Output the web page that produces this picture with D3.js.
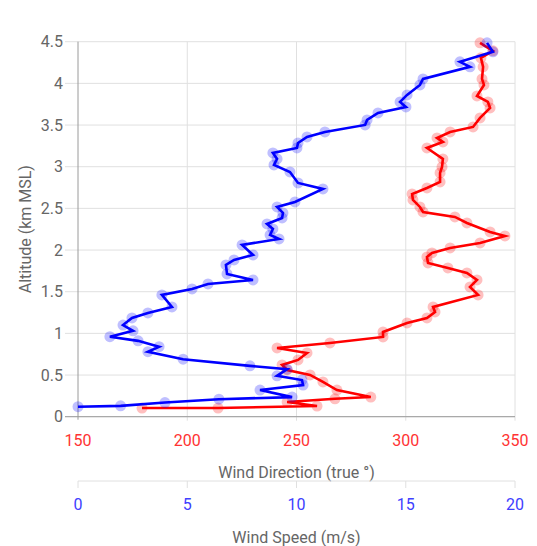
<!DOCTYPE html>
<html><head><meta charset="utf-8">
<script src="https://cdn.jsdelivr.net/npm/d3@7"></script>
<style>
html,body{margin:0;padding:0;background:#fff;}
text{font-family:Roboto,"Noto Sans",sans-serif;}
</style></head>
<body><svg id="c" width="537" height="546"></svg>
<script>
// Wind speed profile (m/s) vs altitude (km MSL)
const speedAlt = [0.12,0.13,0.17,0.21,0.235,0.32,0.38,0.44,0.49,0.57,0.61,0.69,0.78,0.84,0.91,0.96,1.03,1.10,1.185,1.245,1.317,1.461,1.533,1.593,1.641,1.713,1.821,1.881,1.941,2.061,2.133,2.181,2.253,2.313,2.385,2.445,2.517,2.577,2.733,2.805,2.937,3.021,3.093,3.165,3.225,3.285,3.357,3.417,3.501,3.561,3.645,3.717,3.777,3.861,3.981,4.053,4.198,4.258,4.378,4.486];
const speedVal = [0.0,1.95,3.98,6.45,9.8,8.33,10.3,10.25,9.11,9.57,7.87,4.81,3.20,3.71,2.75,1.46,2.52,2.06,2.47,3.20,4.30,3.84,5.22,5.95,8.01,6.82,6.77,7.14,8.01,7.51,9.20,8.79,8.92,8.65,9.34,9.38,9.11,9.93,11.21,10.07,9.70,8.97,9.11,8.92,10.02,10.07,10.48,11.30,13.14,13.23,13.73,15.01,14.74,15.06,15.65,15.79,17.94,17.48,18.99,18.72];
// Wind direction profile (true deg) vs altitude
const dirAlt = [0.104,0.104,0.128,0.176,0.215,0.236,0.320,0.417,0.501,0.561,0.621,0.681,0.765,0.825,0.885,0.957,1.017,1.125,1.185,1.257,1.317,1.461,1.557,1.641,1.725,1.785,1.845,1.917,1.965,2.025,2.085,2.169,2.217,2.325,2.397,2.457,2.517,2.601,2.673,2.745,2.817,2.925,2.997,3.093,3.225,3.297,3.345,3.417,3.477,3.585,3.705,3.777,3.849,3.981,4.053,4.198,4.306,4.390,4.486];
const dirVal = [179.3,214.1,259.4,245.7,267.6,284.0,268.5,262.1,256.2,245.7,243.4,250.7,254.8,241.1,265.3,289.6,289.6,300.6,309.7,313.4,312.5,333.1,329.4,332.6,328.0,319.3,310.2,309.7,312.0,320.3,334.0,345.4,338.6,328.0,322.5,307.9,306.5,303.3,302.9,309.7,315.7,315.7,316.6,317.0,309.7,317.0,314.3,320.3,330.8,334.0,338.6,337.6,332.6,335.8,334.9,335.4,334.4,339.9,334.0];
const altTicks = [0,0.5,1,1.5,2,2.5,3,3.5,4,4.5];
const dirTicks = [150,200,250,300,350];
const speedTicks = [0,5,10,15,20];

const svg = d3.select("#c");
const L = 78, R = 515, T = 41.7, B = 416.7;
const y = d3.scaleLinear().domain([0,4.5]).range([B,T]);
const xd = d3.scaleLinear().domain([150,350]).range([L,R]);
const xs = d3.scaleLinear().domain([0,20]).range([L,R]);
const FS = 16;

// horizontal grid
svg.append("g").selectAll("line").data(altTicks).join("line")
  .attr("x1",65).attr("x2",R).attr("y1",d=>y(d)).attr("y2",d=>y(d))
  .attr("stroke","#e0e0e0").attr("stroke-width",1);
// vertical grid
svg.append("g").selectAll("line").data(dirTicks.slice(1)).join("line")
  .attr("x1",d=>xd(d)).attr("x2",d=>xd(d)).attr("y1",T).attr("y2",B+4)
  .attr("stroke","#e0e0e0").attr("stroke-width",1);
// axis lines
svg.append("line").attr("x1",L).attr("x2",L).attr("y1",T).attr("y2",B+3).attr("stroke","#9a9a9a");
svg.append("line").attr("x1",65).attr("x2",R).attr("y1",B).attr("y2",B).attr("stroke","#9a9a9a");

// y tick labels
svg.append("g").selectAll("text").data(altTicks).join("text")
  .attr("x",63).attr("y",d=>y(d)).attr("dy","0.35em").attr("text-anchor","end")
  .attr("font-size",FS).attr("fill","#666").text(d=>d);
svg.append("text").attr("transform",`translate(25,${(T+B)/2}) rotate(-90)`)
  .attr("text-anchor","middle").attr("dy","0.35em").attr("font-size",FS).attr("fill","#666")
  .text("Altitude (km MSL)");

// direction axis labels
svg.append("g").selectAll("text").data(dirTicks).join("text")
  .attr("x",d=>xd(d)).attr("y",440).attr("dy","0.35em").attr("text-anchor","middle")
  .attr("font-size",FS).attr("fill","#ff3333").text(d=>d);
svg.append("text").attr("x",(L+R)/2).attr("y",472).attr("dy","0.35em").attr("text-anchor","middle")
  .attr("font-size",FS).attr("fill","#666").text("Wind Direction (true °)");

// speed axis
const sy = 481;
svg.append("line").attr("x1",L).attr("x2",R).attr("y1",sy).attr("y2",sy).attr("stroke","#e0e0e0");
svg.append("g").selectAll("line").data(speedTicks).join("line")
  .attr("x1",d=>xs(d)).attr("x2",d=>xs(d)).attr("y1",sy).attr("y2",sy+7).attr("stroke","#e0e0e0");
svg.append("g").selectAll("text").data(speedTicks).join("text")
  .attr("x",d=>xs(d)).attr("y",504).attr("dy","0.35em").attr("text-anchor","middle")
  .attr("font-size",FS).attr("fill","#4040ff").text(d=>d);
svg.append("text").attr("x",(L+R)/2).attr("y",537).attr("dy","0.35em").attr("text-anchor","middle")
  .attr("font-size",FS).attr("fill","#666").text("Wind Speed (m/s)");

// series
const dirData = dirAlt.map((a,i)=>({a, v:dirVal[i]}));
const spdData = speedAlt.map((a,i)=>({a, v:speedVal[i]}));
const lineD = d3.line().x(d=>xd(d.v)).y(d=>y(d.a));
const lineS = d3.line().x(d=>xs(d.v)).y(d=>y(d.a));

svg.append("path").datum(dirData).attr("d",lineD).attr("fill","none")
  .attr("stroke","#ff0000").attr("stroke-width",2.6).attr("stroke-linejoin","miter");
svg.append("g").selectAll("circle").data(dirData).join("circle")
  .attr("cx",d=>xd(d.v)).attr("cy",d=>y(d.a)).attr("r",5.5)
  .attr("fill","#ff0000").attr("fill-opacity",0.25);

svg.append("path").datum(spdData).attr("d",lineS).attr("fill","none")
  .attr("stroke","#0000ff").attr("stroke-width",2.6).attr("stroke-linejoin","miter");
svg.append("g").selectAll("circle").data(spdData).join("circle")
  .attr("cx",d=>xs(d.v)).attr("cy",d=>y(d.a)).attr("r",5.5)
  .attr("fill","#0000ff").attr("fill-opacity",0.25);
</script></body></html>
